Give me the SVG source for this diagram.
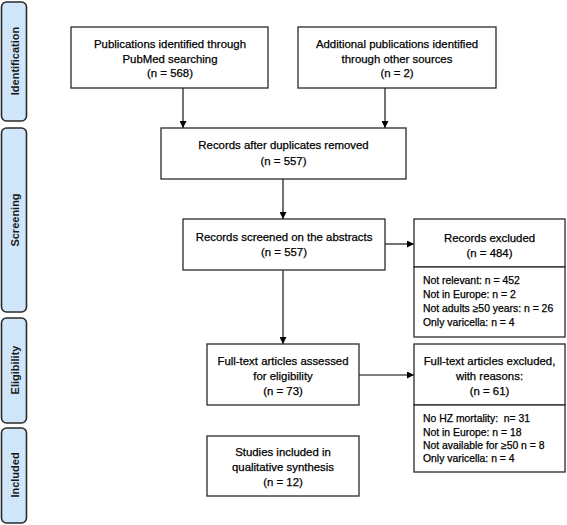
<svg xmlns="http://www.w3.org/2000/svg" width="567" height="525" viewBox="0 0 567 525">
<defs>
<pattern id="dots" width="2" height="2" patternUnits="userSpaceOnUse">
<rect width="2" height="2" fill="#d3e9fb"/>
<rect width="1" height="1" fill="#c4e0f7"/>
</pattern>
<marker id="ah" viewBox="0 0 10 10" refX="10" refY="5" markerWidth="7" markerHeight="7" markerUnits="userSpaceOnUse" orient="auto">
<path d="M0,0 L10,5 L0,10 z" fill="#000"/>
</marker>
<style>
.bar{fill:url(#dots);stroke:#2a2a2a;stroke-width:1.6}
.box{fill:#fff;stroke:#2a2a2a;stroke-width:1.3}
.t{font-family:"Liberation Sans",Arial,sans-serif;font-size:11.4px;fill:#000;stroke:#000;stroke-width:0.25;text-anchor:middle}
.l{font-family:"Liberation Sans",Arial,sans-serif;font-size:10.4px;fill:#000;stroke:#000;stroke-width:0.25;text-anchor:start;white-space:pre}
.s{font-family:"Liberation Sans",Arial,sans-serif;font-size:11px;font-weight:bold;fill:#1a1a1a;text-anchor:middle}
.c{stroke:#000;stroke-width:1.1;fill:none;marker-end:url(#ah)}
</style>
</defs>
<rect width="567" height="525" fill="#fff"/>
<g id="stages">
<rect class="bar" x="1.5" y="2" width="25" height="119" rx="5"/>
<text class="s" transform="translate(19,61) rotate(-90)">Identification</text>
<rect class="bar" x="1.5" y="128" width="25" height="184" rx="5"/>
<text class="s" transform="translate(19,220) rotate(-90)">Screening</text>
<rect class="bar" x="1.5" y="318" width="25" height="105" rx="5"/>
<text class="s" transform="translate(19,370) rotate(-90)">Eligibility</text>
<rect class="bar" x="1.5" y="428" width="25" height="95" rx="5"/>
<text class="s" transform="translate(19,475) rotate(-90)">Included</text>
</g>
<g id="connectors">
<line class="c" x1="183" y1="88" x2="183" y2="128"/>
<line class="c" x1="385" y1="88" x2="385" y2="128"/>
<line class="c" x1="283" y1="179" x2="283" y2="219"/>
<line class="c" x1="283" y1="270" x2="283" y2="344"/>
<line class="c" x1="385" y1="244" x2="414" y2="244"/>
<line class="c" x1="359" y1="375" x2="414" y2="375"/>
</g>
<g id="pubmed">
<rect class="box" x="71" y="27" width="197" height="61"/>
<text class="t" x="170" y="48">Publications identified through</text>
<text class="t" x="170" y="63">PubMed searching</text>
<text class="t" x="170" y="77">(n = 568)</text>
</g>
<g id="other">
<rect class="box" x="298" y="27" width="198" height="61"/>
<text class="t" x="397" y="48">Additional publications identified</text>
<text class="t" x="397" y="63">through other sources</text>
<text class="t" x="397" y="77">(n = 2)</text>
</g>
<g id="dedup">
<rect class="box" x="161" y="128" width="245" height="51"/>
<text class="t" x="283.5" y="149">Records after duplicates removed</text>
<text class="t" x="283.5" y="165">(n = 557)</text>
</g>
<g id="screened">
<rect class="box" x="183" y="219" width="202" height="51"/>
<text class="t" x="284" y="241">Records screened on the abstracts</text>
<text class="t" x="284" y="256">(n = 557)</text>
</g>
<g id="excluded">
<rect class="box" x="414" y="219" width="151" height="48"/>
<rect class="box" x="414" y="267" width="151" height="70"/>
<text class="t" x="489.5" y="242">Records excluded</text>
<text class="t" x="489.5" y="257">(n = 484)</text>
<text class="l" x="423" y="284">Not relevant: n = 452</text>
<text class="l" x="423" y="298">Not in Europe: n = 2</text>
<text class="l" x="423" y="312">Not adults ≥50 years: n = 26</text>
<text class="l" x="423" y="326">Only varicella: n = 4</text>
</g>
<g id="fulltext">
<rect class="box" x="207" y="344" width="152" height="61"/>
<text class="t" x="283" y="365">Full-text articles assessed</text>
<text class="t" x="283" y="380">for eligibility</text>
<text class="t" x="283" y="395">(n = 73)</text>
</g>
<g id="included">
<rect class="box" x="207" y="436" width="152" height="60"/>
<text class="t" x="283" y="456">Studies included in</text>
<text class="t" x="283" y="471">qualitative synthesis</text>
<text class="t" x="283" y="486">(n = 12)</text>
</g>
<g id="ftexcluded">
<rect class="box" x="414" y="344" width="151" height="61"/>
<rect class="box" x="414" y="405" width="151" height="67"/>
<text class="t" x="489.5" y="365">Full-text articles excluded,</text>
<text class="t" x="489.5" y="380">with reasons:</text>
<text class="t" x="489.5" y="395">(n = 61)</text>
<text class="l" x="423" y="422">No HZ mortality:  n= 31</text>
<text class="l" x="423" y="436">Not in Europe: n = 18</text>
<text class="l" x="423" y="449">Not available for ≥50 n = 8</text>
<text class="l" x="423" y="462">Only varicella: n = 4</text>
</g>
</svg>
